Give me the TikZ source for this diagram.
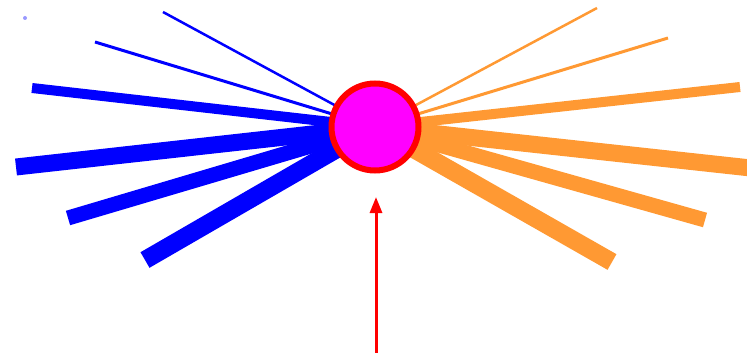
\documentclass[tikz,border=0pt]{standalone}
\usetikzlibrary{arrows.meta}
\definecolor{raysblue}{RGB}{0,0,255}
\definecolor{raysorange}{RGB}{255,153,51}
\definecolor{hubfill}{RGB}{255,0,255}
\definecolor{hubred}{RGB}{255,0,0}
\begin{document}
\begin{tikzpicture}[x=1pt,y=-1pt,
  bray/.style={draw=raysblue},
  oray/.style={draw=raysorange},
  hub/.style={circle,draw=hubred,fill=hubfill,line width=6pt,minimum size=87pt,inner sep=0pt},
  pointer/.style={draw=hubred,line width=3pt,-{Triangle[length=16pt,width=12pt]}}]
\useasboundingbox (0,0) rectangle (747,353);
\coordinate (o) at (375,127);
% blue rays
\coordinate (b1) at (163,12);
\coordinate (b2) at (95,42);
\coordinate (b3) at (32,88);
\coordinate (b4) at (16,167);
\coordinate (b5) at (68,218);
\coordinate (b6) at (145,260);
\draw[bray,line width=2.5pt] (b1) -- (o);
\draw[bray,line width=3pt] (b2) -- (o);
\draw[bray,line width=10pt] (b3) -- (o);
\draw[bray,line width=17pt] (b4) -- (o);
\draw[bray,line width=15pt] (b5) -- (o);
\draw[bray,line width=18pt] (b6) -- (o);
\fill[raysblue!40] (25,18) circle (2pt);
% orange rays
\coordinate (r1) at (597,8);
\coordinate (r2) at (668,38);
\coordinate (r3) at (740,87);
\coordinate (r4) at (760,169);
\coordinate (r5) at (705,220);
\coordinate (r6) at (612,262);
\draw[oray,line width=2.5pt] (r1) -- (o);
\draw[oray,line width=3pt] (r2) -- (o);
\draw[oray,line width=10pt] (r3) -- (o);
\draw[oray,line width=17pt] (r4) -- (o);
\draw[oray,line width=15pt] (r5) -- (o);
\draw[oray,line width=18pt] (r6) -- (o);
% hub
\node[hub] (c) at (o) {};
% arrow
\coordinate (a0) at (376,353);
\coordinate (a1) at (376,197);
\draw[pointer] (a0) -- (a1);
\end{tikzpicture}
\end{document}
